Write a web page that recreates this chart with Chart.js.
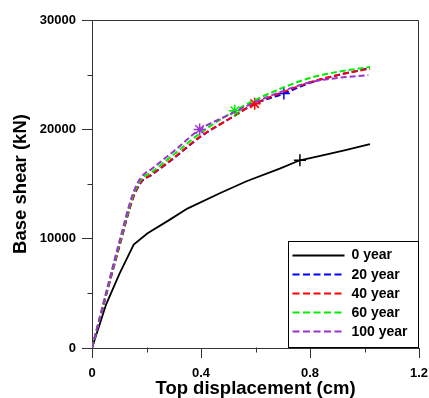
<!DOCTYPE html>
<html><head><meta charset="utf-8">
<script src="https://cdn.jsdelivr.net/npm/chart.js@4/dist/chart.umd.min.js"></script>
<style>html,body{margin:0;padding:0;background:#fff}</style>
</head><body><canvas id="c" width="429" height="398"></canvas>
<script>
// ---- data ----
const seriesNames = ['0 year', '20 year', '40 year', '60 year', '100 year'];

const x0y = [0, 0.052, 0.101, 0.153, 0.204, 0.28, 0.35, 0.469, 0.567, 0.689, 0.763, 0.85, 0.93, 1.02];
const y0y = [0, 4000, 6800, 9450, 10500, 11650, 12750, 14150, 15250, 16400, 17170, 17650, 18100, 18640];

const x20y = [0, 0.05, 0.1, 0.15, 0.18, 0.22, 0.3, 0.4, 0.5, 0.6, 0.704, 0.8, 0.9, 1.02];
const y20y = [0, 4650, 9250, 13650, 15150, 15850, 17350, 19350, 20900, 22350, 23280, 24250, 24950, 25600];

const x40y = [0, 0.05, 0.1, 0.15, 0.18, 0.22, 0.3, 0.4, 0.5, 0.597, 0.7, 0.8, 0.9, 1.02];
const y40y = [0, 4700, 9300, 13700, 15200, 15900, 17400, 19400, 20900, 22350, 23400, 24300, 24950, 25550];

const x60y = [0, 0.05, 0.1, 0.15, 0.18, 0.22, 0.3, 0.4, 0.524, 0.6, 0.7, 0.8, 0.9, 1.02];
const y60y = [0, 4800, 9500, 13900, 15400, 16100, 17700, 19700, 21700, 22700, 23800, 24700, 25250, 25700];

const x100y = [0, 0.05, 0.1, 0.15, 0.18, 0.22, 0.3, 0.395, 0.5, 0.6, 0.7, 0.8, 0.9, 1.014];
const y100y = [0, 4900, 9700, 14100, 15600, 16400, 18000, 19980, 21300, 22500, 23500, 24300, 24700, 24950];

const markerIndex = [10, 10, 9, 8, 7];

const xTicks = [0, 0.4, 0.8, 1.2];
const xTickLabels = ['0', '0.4', '0.8', '1.2'];
const xMinorTicks = [0.2, 0.6, 1.0];
const yTicks = [0, 10000, 20000, 30000];
const yTickLabels = ['0', '10000', '20000', '30000'];
const yMinorTicks = [5000, 15000, 25000];

// ---- styles ----
const colors = ['#000000', '#0000ff', '#ff0000', '#00ee00', '#9933cc'];
const dashes = [[], [6, 3], [6, 3], [6, 3], [6, 3]];
const pStyles = ['cross', 'cross', 'star', 'star', 'star'];
const drawOrder = [4, 3, 2, 1, 0];
const xs = [x0y, x20y, x40y, x60y, x100y];
const ys = [y0y, y20y, y40y, y60y, y100y];

const datasets = seriesNames.map((name, i) => ({
  label: name,
  data: xs[i].map((x, k) => ({ x: x, y: ys[i][k] })),
  borderColor: colors[i],
  backgroundColor: colors[i],
  borderWidth: i === 0 ? 1.8 : 2,
  borderDash: dashes[i],
  showLine: true,
  tension: 0,
  cubicInterpolationMode: i === 0 ? 'default' : 'monotone',
  pointRadius: xs[i].map((_, k) => k === markerIndex[i] ? 6 : 0),
  pointStyle: pStyles[i],
  pointBorderWidth: 1.5,
  pointBorderColor: colors[i],
  order: drawOrder[i]
}));

const AXIS = '#333333';
const FONT = 'Arial, "Liberation Sans", sans-serif';

const framePlugin = {
  id: 'frame',
  afterDraw(chart) {
    const { ctx, chartArea: a, scales: { x, y } } = chart;
    ctx.save();
    ctx.strokeStyle = AXIS;
    ctx.lineWidth = 1;
    ctx.beginPath();
    const L = Math.round(a.left) + 0.5, R = Math.round(a.right) - 0.5;
    const T = Math.round(a.top) + 0.5, B = Math.round(a.bottom) - 0.5;
    ctx.moveTo(L, T); ctx.lineTo(R, T); ctx.lineTo(R, B);
    yMinorTicks.forEach(v => { const p = Math.round(y.getPixelForValue(v)) + 0.5; ctx.moveTo(L - 5, p); ctx.lineTo(L, p); });
    xMinorTicks.forEach(v => { const p = Math.round(x.getPixelForValue(v)) + 0.5; ctx.moveTo(p, B); ctx.lineTo(p, B + 5); });
    ctx.stroke();

    // legend
    const bw = 130, bh = 106;
    const bx = Math.round(a.right) - bw - 0.5, by = B - bh;
    ctx.fillStyle = '#fff';
    ctx.fillRect(bx, by, bw, bh);
    ctx.strokeStyle = '#000';
    ctx.strokeRect(bx, by, bw, bh);
    ctx.font = 'bold 14px ' + FONT;
    ctx.textBaseline = 'middle';
    ctx.textAlign = 'left';
    chart.data.datasets.forEach((ds, i) => {
      const cy = by + 13 + i * 19.2;
      ctx.save();
      ctx.strokeStyle = ds.borderColor;
      ctx.lineWidth = 2;
      ctx.setLineDash(ds.borderDash.length ? [7, 3.5] : []);
      ctx.beginPath();
      ctx.moveTo(bx + 4, Math.round(cy) + 0.5);
      ctx.lineTo(bx + 56, Math.round(cy) + 0.5);
      ctx.stroke();
      ctx.restore();
      ctx.fillStyle = '#000';
      ctx.fillText(ds.label, bx + 63, cy + 1);
    });
    ctx.restore();
  }
};

new Chart(document.getElementById('c'), {
  type: 'scatter',
  data: { datasets },
  options: {
    responsive: false,
    animation: false,
    events: [],
    layout: { padding: { top: 20, right: 10, left: 0, bottom: 0 } },
    plugins: { legend: { display: false }, tooltip: { enabled: false } },
    scales: {
      x: {
        type: 'linear', min: 0, max: 1.2,
        afterBuildTicks: s => { s.ticks = xTicks.map(v => ({ value: v })); },
        afterFit: s => { s.height = 50; s.paddingRight = 0; s.paddingLeft = 0; },
        ticks: {
          autoSkip: false, maxRotation: 0, padding: 8, color: '#000',
          font: { family: FONT, size: 13, weight: 'bold' },
          callback: (v) => xTickLabels[xTicks.indexOf(v)] ?? ''
        },
        grid: { drawOnChartArea: false, drawTicks: true, tickLength: 10, color: AXIS, lineWidth: 1 },
        border: { display: true, color: AXIS, width: 1 },
        title: {
          display: true, text: 'Top displacement (cm)', color: '#000',
          font: { family: FONT, size: 18.5, weight: 'bold', lineHeight: 1 },
          padding: { top: 0, bottom: 0 }
        }
      },
      y: {
        type: 'linear', min: 0, max: 30000,
        afterBuildTicks: s => { s.ticks = yTicks.map(v => ({ value: v })); },
        afterFit: s => { s.width = 92; s.paddingTop = 0; s.paddingBottom = 0; },
        ticks: {
          autoSkip: false, padding: 6, color: '#000',
          font: { family: FONT, size: 13, weight: 'bold' },
          callback: (v) => yTickLabels[yTicks.indexOf(v)] ?? ''
        },
        grid: { drawOnChartArea: false, drawTicks: true, tickLength: 10, color: AXIS, lineWidth: 1 },
        border: { display: true, color: AXIS, width: 1 },
        title: {
          display: true, text: 'Base shear (kN)', color: '#000',
          font: { family: FONT, size: 18.5, weight: 'bold', lineHeight: 1 },
          padding: { top: 12, bottom: 0 }
        }
      }
    }
  },
  plugins: [framePlugin]
});
</script>
</body></html>
